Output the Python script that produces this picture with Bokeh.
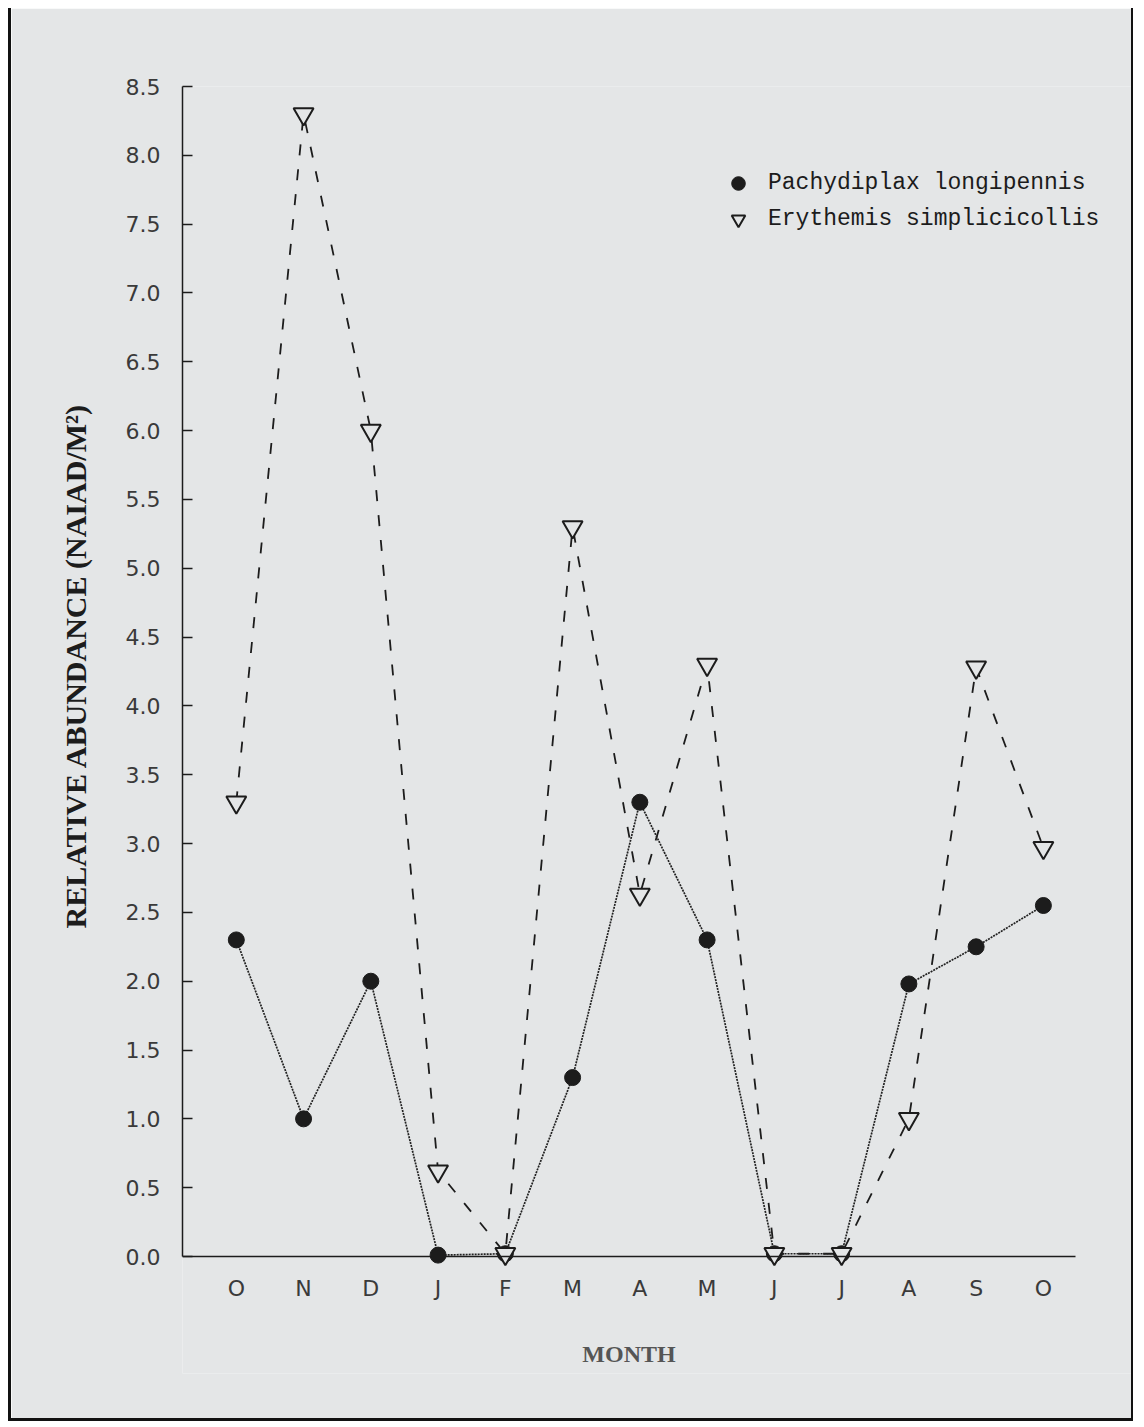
from bokeh.plotting import figure
from bokeh.models import (FixedTicker, PrintfTickFormatter, Range1d, Legend, LegendItem,
                          ColumnDataSource, Title)
from bokeh.embed import file_html
from bokeh.resources import INLINE

# ---- data ----
months = ["O", "N", "D", "J", "F", "M", "A", "M", "J", "J", "A", "S", "O"]
pachydiplax = [2.30, 1.00, 2.00, 0.01, 0.02, 1.30, 3.30, 2.30, 0.02, 0.02, 1.98, 2.25, 2.55]
erythemis = [3.30, 8.30, 6.00, 0.62, 0.02, 5.30, 2.63, 4.30, 0.02, 0.02, 1.00, 4.28, 2.97]
y_ticks = [i * 0.5 for i in range(18)]

xpos = list(range(len(months)))
src = ColumnDataSource(dict(x=xpos, p=pachydiplax, e=erythemis))

BG = "#e4e6e7"
INK = "#1c1c1c"

p = figure(width=1125, height=1413, output_backend="svg", toolbar_location=None,
           x_range=Range1d(-0.8, 13.31), y_range=Range1d(-0.85, 8.5),
           min_border_left=171, min_border_right=5, min_border_top=78,
           min_border_bottom=48)
p.background_fill_color = BG
p.border_fill_color = BG
p.outline_line_color = None
p.grid.visible = False
p.styles = {"margin-left": "8px", "margin-top": "8px",
            "border-left": "3px solid #111", "border-right": "2px solid #111",
            "border-bottom": "3px solid #111"}

# lines
p.line("x", "e", source=src, line_color=INK, line_width=1.8, line_dash="11 14")
p.line("x", "p", source=src, line_color="#222222", line_width=1.7, line_dash="2 1")
r_p = p.scatter("x", "p", source=src, marker="circle", size=16,
                fill_color=INK, line_color=INK)
r_e = p.scatter("x", "e", source=src, marker="inverted_triangle", size=20,
                fill_color=BG, line_color=INK, line_width=2)

# y axis
ya = p.yaxis[0]
ya.ticker = FixedTicker(ticks=y_ticks)
ya.formatter = PrintfTickFormatter(format="%.1f")
ya.bounds = (0, 8.5)
ya.major_tick_in = 10
ya.major_tick_out = 0
ya.minor_tick_line_color = None
ya.axis_line_color = INK
ya.axis_line_width = 1.5
ya.major_tick_line_color = INK
ya.major_tick_line_width = 1.5
ya.major_label_standoff = 22
ya.major_label_text_font = "DejaVu Sans"
ya.major_label_text_font_size = "22px"
ya.major_label_text_color = "#3a3a3a"

# y axis title as a left-side title, anchored at its lower end like the original
ytitle = Title(text="RELATIVE ABUNDANCE (NAIAD/M²)", align="left", offset=445,
               standoff=62, text_font="Liberation Serif", text_font_style="bold",
               text_font_size="30px", text_color=INK)
p.add_layout(ytitle, "left")

# x axis
xa = p.xaxis[0]
xa.fixed_location = 0
xa.bounds = (-0.8, 12.48)
xa.ticker = FixedTicker(ticks=xpos)
xa.major_label_overrides = {i: m for i, m in enumerate(months)}
xa.major_tick_in = 0
xa.major_tick_out = 0
xa.minor_tick_line_color = None
xa.axis_line_color = INK
xa.axis_line_width = 1.5
xa.major_label_standoff = 19
xa.major_label_text_font = "DejaVu Sans"
xa.major_label_text_font_size = "22px"
xa.major_label_text_color = "#3a3a3a"
xa.axis_label = "MONTH"
xa.axis_label_text_font = "Liberation Serif"
xa.axis_label_text_font_style = "bold"
xa.axis_label_text_font_size = "24px"
xa.axis_label_text_color = "#555555"
xa.axis_label_standoff = 37

legend = Legend(items=[LegendItem(label="Pachydiplax longipennis", renderers=[r_p]),
                       LegendItem(label="Erythemis simplicicollis", renderers=[r_e])],
                location=(539, 1137), padding=0, spacing=2, margin=0,
                glyph_width=34, glyph_height=34, label_height=34, label_standoff=13,
                label_text_font="Liberation Mono", label_text_font_size="23px",
                label_text_color=INK, background_fill_alpha=0, border_line_color=None)
p.add_layout(legend, "center")

open("out.html", "w").write(file_html(p, INLINE))
